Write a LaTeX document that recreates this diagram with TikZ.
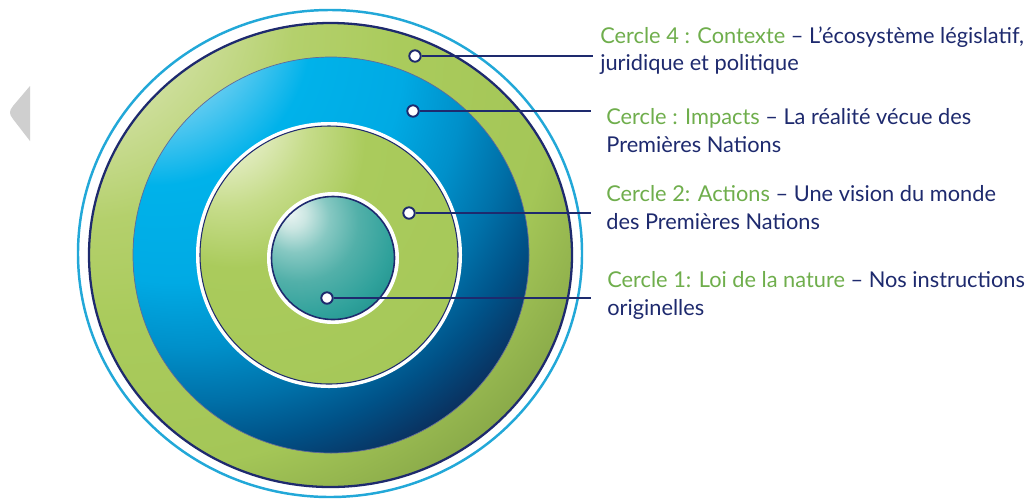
\documentclass[tikz,border=0pt]{standalone}
\usepackage{fontspec}
\setmainfont{Lato}

\definecolor{navy}{HTML}{1E2A6E}
\definecolor{rimblue}{HTML}{22A8D8}
\definecolor{leafgreen}{HTML}{6FAE4C}
\definecolor{arrowgray}{HTML}{CFCFCF}
% ring colours
\definecolor{ctxa}{HTML}{EEF1DA}
\definecolor{ctxb}{HTML}{DDE7B8}
\definecolor{ctxc}{HTML}{B4D06C}
\definecolor{ctxd}{HTML}{AACB5C}
\definecolor{ctxe}{HTML}{A4C657}
\definecolor{ctxf}{HTML}{86A647}
\definecolor{ctxg}{HTML}{7A9C42}
\definecolor{impa}{HTML}{FFFFFF}
\definecolor{impb}{HTML}{E8F7FD}
\definecolor{impc}{HTML}{7ED3F3}
\definecolor{impd}{HTML}{00B2EA}
\definecolor{impe}{HTML}{00AAE4}
\definecolor{impf}{HTML}{0090CA}
\definecolor{impg}{HTML}{0070A8}
\definecolor{imph}{HTML}{005288}
\definecolor{impi}{HTML}{0B2D5A}
\definecolor{acta}{HTML}{FBFCF3}
\definecolor{actb}{HTML}{EEF3D8}
\definecolor{actc}{HTML}{C6DC8A}
\definecolor{actd}{HTML}{AACB5C}
\definecolor{acte}{HTML}{A6C859}
\definecolor{actf}{HTML}{8DAF4A}
\definecolor{actg}{HTML}{82A544}
\definecolor{loia}{HTML}{EEF6F5}
\definecolor{loib}{HTML}{CBE6E2}
\definecolor{loic}{HTML}{86C8C2}
\definecolor{loid}{HTML}{52B0A9}
\definecolor{loie}{HTML}{2FA19B}
\definecolor{loif}{HTML}{1E8C88}
\definecolor{loig}{HTML}{1A7878}

% Shadings (highlight up left)
\pgfdeclareradialshading{ctxshade}{\pgfpoint{-33bp}{33bp}}{color(0bp)=(ctxa); color(10bp)=(ctxb); color(22bp)=(ctxc); color(30bp)=(ctxd); color(42bp)=(ctxe); color(50bp)=(ctxf); color(100bp)=(ctxg)}
\pgfdeclareradialshading{impshade}{\pgfpoint{-28bp}{36bp}}{color(0bp)=(impa); color(5bp)=(impb); color(12bp)=(impc); color(20bp)=(impd); color(29bp)=(impe); color(35bp)=(impf); color(40bp)=(impg); color(44bp)=(imph); color(49bp)=(impi); color(100bp)=(impi)}
\pgfdeclareradialshading{actshade}{\pgfpoint{-24bp}{30bp}}{color(0bp)=(acta); color(6bp)=(actb); color(16bp)=(actc); color(25bp)=(actd); color(45bp)=(acte); color(53bp)=(actf); color(100bp)=(actg)}
\pgfdeclareradialshading{loishade}{\pgfpoint{-18bp}{19bp}}{color(0bp)=(loia); color(6bp)=(loib); color(14bp)=(loic); color(24bp)=(loid); color(36bp)=(loie); color(46bp)=(loif); color(100bp)=(loig)}

\begin{document}
\begin{tikzpicture}[x=0.02cm, y=-0.02cm,
  dot/.style={circle, draw=navy, fill=white, line width=1.1pt, minimum size=6.5pt, inner sep=0pt},
  lead/.style={draw=navy, line width=0.9pt},
  captxt/.style={anchor=north west, inner sep=0pt, align=left, text=navy,
    font=\fontsize{12.4}{15.9}\selectfont}]
\useasboundingbox (0,0) rectangle (1034,498);
\fill[white] (0,0) rectangle (1034,498);
% Arrow
\fill[arrowgray] (30,86) -- (13,106) .. controls (9,111) and (9,114) .. (13,119) -- (30,141) -- cycle;
% Rim
\draw[draw=rimblue, line width=1.4pt] (330,253.5) ellipse [x radius=252, y radius=243.5];
% Circle 4
\shadedraw[shading=ctxshade, draw=navy, line width=1.3pt] (330.5,255) ellipse [x radius=241.5, y radius=232];
% Impacts
\shadedraw[shading=impshade, draw=navy!70, line width=0.4pt] (331,255) circle [radius=198];
% Actions
\fill[white] (329,255) circle [radius=133];
\shadedraw[shading=actshade, draw=navy, line width=0.6pt] (329,255) circle [radius=129];
% Loi de la nature
\fill[white] (333,258) circle [radius=66];
\shadedraw[shading=loishade, draw=navy, line width=0.9pt] (333,258) circle [radius=61.5];
% Dots
\node[dot] (d4) at (415,56) {};
\node[dot] (d3) at (413,111) {};
\node[dot] (d2) at (409,213) {};
\node[dot] (d1) at (327,298) {};
\coordinate (e4) at (593,56);
\coordinate (e3) at (591,111);
\coordinate (e2) at (591,213);
\coordinate (e1) at (591,298);
% Leaders
\draw[lead] (d4) -- (e4);
\draw[lead] (d3) -- (e3);
\draw[lead] (d2) -- (e2);
\draw[lead] (d1) -- (e1);
% Texts
\node[captxt] (t4) at (600,26) {\textcolor{leafgreen}{Cercle 4 : Contexte} – L’écosystème législatif,\\juridique et politique};
\node[captxt] (t3) at (606,108) {\textcolor{leafgreen}{Cercle : Impacts} – La réalité vécue des\\Premières Nations};
\node[captxt] (t2) at (606,185) {\textcolor{leafgreen}{Cercle 2: Actions} – Une vision du monde\\des Premières Nations};
\node[captxt] (t1) at (607,271) {\textcolor{leafgreen}{Cercle 1: Loi de la nature} – Nos instructions\\originelles};
\end{tikzpicture}
\end{document}
